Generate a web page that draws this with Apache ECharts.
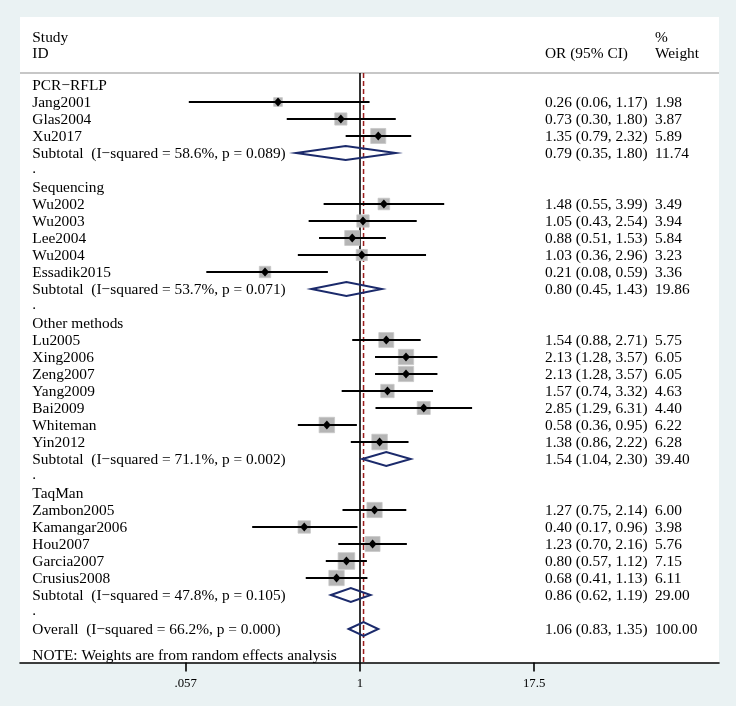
<!DOCTYPE html>
<html>
<head>
<meta charset="utf-8">
<script src="https://cdn.jsdelivr.net/npm/echarts@6/dist/echarts.min.js"></script>
<style>
html,body{margin:0;padding:0;background:#eaf2f3;}
#chart{width:736px;height:706px;}
</style>
</head>
<body>
<div id="chart"></div>
<script>
// ---------------- data ----------------
const groupNames = ['PCR\u2212RFLP', 'Sequencing', 'Other methods', 'TaqMan'];
const studyNames = ['Jang2001', 'Glas2004', 'Xu2017',
  'Wu2002', 'Wu2003', 'Lee2004', 'Wu2004', 'Essadik2015',
  'Lu2005', 'Xing2006', 'Zeng2007', 'Yang2009', 'Bai2009', 'Whiteman', 'Yin2012',
  'Zambon2005', 'Kamangar2006', 'Hou2007', 'Garcia2007', 'Crusius2008'];
const studyGroup = [0, 0, 0, 1, 1, 1, 1, 1, 2, 2, 2, 2, 2, 2, 2, 3, 3, 3, 3, 3];
const studyOR = [0.26, 0.73, 1.35, 1.48, 1.05, 0.88, 1.03, 0.21, 1.54, 2.13, 2.13, 1.57, 2.85, 0.58, 1.38, 1.27, 0.40, 1.23, 0.80, 0.68];
const studyLo = [0.06, 0.30, 0.79, 0.55, 0.43, 0.51, 0.36, 0.08, 0.88, 1.28, 1.28, 0.74, 1.29, 0.36, 0.86, 0.75, 0.17, 0.70, 0.57, 0.41];
const studyHi = [1.17, 1.80, 2.32, 3.99, 2.54, 1.53, 2.96, 0.59, 2.71, 3.57, 3.57, 3.32, 6.31, 0.95, 2.22, 2.14, 0.96, 2.16, 1.12, 1.13];
const studyWeight = [1.98, 3.87, 5.89, 3.49, 3.94, 5.84, 3.23, 3.36, 5.75, 6.05, 6.05, 4.63, 4.40, 6.22, 6.28, 6.00, 3.98, 5.76, 7.15, 6.11];
const subI2 = ['58.6%', '53.7%', '71.1%', '47.8%'];
const subP = ['0.089', '0.071', '0.002', '0.105'];
const subOR = [0.79, 0.80, 1.54, 0.86];
const subLo = [0.35, 0.45, 1.04, 0.62];
const subHi = [1.80, 1.43, 2.30, 1.19];
const subWeight = [11.74, 19.86, 39.40, 29.00];
const overallI2 = '66.2%';
const overallP = '0.000';
const overallOR = 1.06;
const overallLo = 0.83;
const overallHi = 1.35;
const overallWeight = 100.00;
const tickValues = [0.057, 1, 17.5];
const tickLabels = ['.057', '1', '17.5'];
const noteText = 'NOTE: Weights are from random effects analysis';

// ---------------- build rows ----------------
const rows = []; // {row, kind, idx}
let r = 0;
groupNames.forEach((g, gi) => {
  rows.push({row: r++, kind: 'group', idx: gi});
  studyNames.forEach((s, si) => { if (studyGroup[si] === gi) rows.push({row: r++, kind: 'study', idx: si}); });
  rows.push({row: r++, kind: 'sub', idx: gi});
  rows.push({row: r++, kind: 'dot', idx: gi});
});
rows.push({row: r, kind: 'overall', idx: 0});
rows.push({row: r + 1.53, kind: 'note', idx: 0});

function ciText(o, l, h) { return o.toFixed(2) + ' (' + l.toFixed(2) + ', ' + h.toFixed(2) + ')'; }

// ---------------- layout ----------------
const FONT = 'Liberation Serif';
const FS = 15.4;
const TXT_DY = 1;
const gridLeft = 20, gridTop = 17, gridW = 699, gridH = 645.5;
const rowPx = 17;
const zeroPx = 360, pxPerUnit = 60.85;
const xMin = -(zeroPx - gridLeft) / pxPerUnit;
const xMax = (gridLeft + gridW - zeroPx) / pxPerUnit;
const yMin = -4, yMax = yMin + gridH / rowPx;
const col1 = 12.3, col2 = 525, col3 = 635;
const sepRow = -0.7;
const lnTicks = tickValues.map(Math.log);

function txt(x, y, s) {
  return {type: 'text', style: {x: x, y: y + TXT_DY, text: s, fill: '#000', font: FS + 'px "' + FONT + '"', textVerticalAlign: 'middle', textAlign: 'left'}};
}

const option = {
  backgroundColor: '#eaf2f3',
  animation: false,
  grid: {left: gridLeft, top: gridTop, width: gridW, height: gridH, show: true, backgroundColor: '#ffffff', borderWidth: 0},
  xAxis: {
    type: 'value', min: xMin, max: xMax, position: 'bottom',
    axisLine: {show: true, onZero: false, lineStyle: {color: '#000', width: 1.6}},
    axisTick: {show: true, customValues: lnTicks, length: 9, lineStyle: {color: '#000', width: 1.6}},
    axisLabel: {show: true, customValues: lnTicks, margin: 15, color: '#000', fontFamily: FONT, fontSize: 12.8,
      formatter: function (v) { for (let i = 0; i < lnTicks.length; i++) if (Math.abs(v - lnTicks[i]) < 1e-6) return tickLabels[i]; return ''; }},
    splitLine: {show: false}
  },
  yAxis: {type: 'value', inverse: true, min: yMin, max: yMax, show: false},
  series: [
    { // frame: header separator and reference lines
      type: 'custom', coordinateSystem: 'cartesian2d', silent: true, z: 1,
      data: [[0, 0]],
      renderItem: function (params, api) {
        const cs = params.coordSys;
        const ySep = api.coord([0, sepRow])[1];
        const yBot = cs.y + cs.height;
        const x0 = api.coord([0, 0])[0];
        const xo = api.coord([Math.log(overallOR), 0])[0];
        return {type: 'group', children: [
          {type: 'line', shape: {x1: cs.x, y1: ySep, x2: cs.x + cs.width, y2: ySep}, style: {stroke: '#b4b4b4', lineWidth: 1.5}},
          {type: 'line', shape: {x1: x0, y1: ySep, x2: x0, y2: yBot}, style: {stroke: '#000', lineWidth: 1.6}},
          {type: 'line', shape: {x1: xo, y1: ySep, x2: xo, y2: yBot}, style: {stroke: '#9b1c1c', lineWidth: 1.5, lineDash: [5, 3]}}
        ]};
      }
    },
    { // headers
      type: 'custom', coordinateSystem: 'cartesian2d', silent: true, z: 3,
      data: [[0, 0]],
      renderItem: function (params, api) {
        const cs = params.coordSys;
        const y1 = api.coord([0, -2.82])[1], y2 = api.coord([0, -1.88])[1];
        return {type: 'group', children: [
          txt(cs.x + col1, y1, 'Study'), txt(cs.x + col1, y2, 'ID'),
          txt(cs.x + col2, y2, 'OR (95% CI)'),
          txt(cs.x + col3, y1, '%'), txt(cs.x + col3, y2, 'Weight')
        ]};
      }
    },
    { // rows: marks and text
      type: 'custom', coordinateSystem: 'cartesian2d', silent: true, z: 2,
      data: rows.map(d => [0, d.row]),
      renderItem: function (params, api) {
        const cs = params.coordSys;
        const d = rows[params.dataIndex];
        const y = api.coord([0, d.row])[1];
        const ch = [];
        const X = v => api.coord([Math.log(v), d.row])[0];
        if (d.kind === 'group') {
          ch.push(txt(cs.x + col1, y, groupNames[d.idx]));
        } else if (d.kind === 'dot') {
          ch.push(txt(cs.x + col1, y - 2, '.'));
        } else if (d.kind === 'note') {
          ch.push(txt(cs.x + col1, y, noteText));
        } else if (d.kind === 'study') {
          const i = d.idx;
          const xc = X(studyOR[i]);
          const s = 6.2 * Math.sqrt(studyWeight[i]);
          ch.push({type: 'rect', shape: {x: xc - s / 2, y: y - s / 2, width: s, height: s}, style: {fill: '#b5b5b5', stroke: '#c8c8c8', lineWidth: 0.8}});
          ch.push({type: 'line', shape: {x1: X(studyLo[i]), y1: y, x2: X(studyHi[i]), y2: y}, style: {stroke: '#000', lineWidth: 2.1}});
          ch.push({type: 'polygon', shape: {points: [[xc, y - 4.5], [xc + 4, y], [xc, y + 4.5], [xc - 4, y]]}, style: {fill: '#000'}});
          ch.push(txt(cs.x + col1, y, studyNames[i]));
          ch.push(txt(cs.x + col2, y, ciText(studyOR[i], studyLo[i], studyHi[i])));
          ch.push(txt(cs.x + col3, y, studyWeight[i].toFixed(2)));
        } else {
          let o, l, h, w, label;
          if (d.kind === 'sub') {
            const i = d.idx;
            o = subOR[i]; l = subLo[i]; h = subHi[i]; w = subWeight[i];
            label = 'Subtotal  (I\u2212squared = ' + subI2[i] + ', p = ' + subP[i] + ')';
          } else {
            o = overallOR; l = overallLo; h = overallHi; w = overallWeight;
            label = 'Overall  (I\u2212squared = ' + overallI2 + ', p = ' + overallP + ')';
          }
          const xc = X(o), xl = X(l), xh = X(h);
          ch.push({type: 'polygon', shape: {points: [[xl, y], [xc, y - 7], [xh, y], [xc, y + 7]]}, style: {fill: 'none', stroke: '#1b2a6b', lineWidth: 2}});
          ch.push(txt(cs.x + col1, y, label));
          ch.push(txt(cs.x + col2, y, ciText(o, l, h)));
          ch.push(txt(cs.x + col3, y, w.toFixed(2)));
        }
        return {type: 'group', children: ch};
      }
    }
  ]
};
const chart = echarts.init(document.getElementById('chart'), null, {renderer: 'canvas'});
chart.setOption(option);
</script>
</body>
</html>
